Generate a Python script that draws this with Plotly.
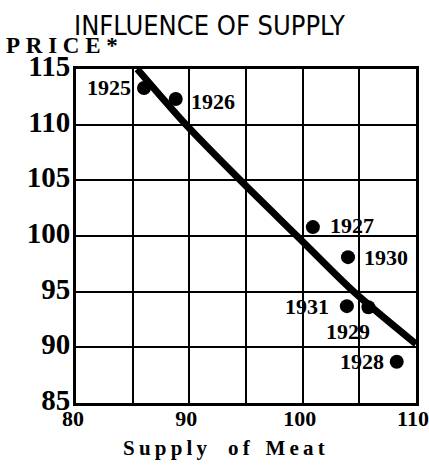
import plotly.graph_objects as go

# Data
years = ["1925", "1926", "1927", "1928", "1929", "1930", "1931"]
supply = [86.0, 88.8, 100.9, 108.3, 105.8, 104.0, 103.9]
price = [113.3, 112.3, 100.8, 88.7, 93.6, 98.1, 93.7]

trend_x = [85.4, 89.7, 94.5, 99.5, 104.5, 110.0]
trend_y = [115.0, 110.0, 105.0, 100.0, 95.0, 90.3]

x_ticks = [80, 85, 90, 95, 100, 105, 110]
x_ticktext = ["80", "", "90", "", "100", "", "110"]
y_ticks = [85, 90, 95, 100, 105, 110, 115]
y_ticktext = ["85", "90", "95", "100", "105", "110", "115"]

# label placement (style): anchor and pixel shifts per year
label_style = {
    "1925": ("right", -11, 0),
    "1926": ("left", 13, -2),
    "1927": ("left", 15, 2),
    "1928": ("right", -11, 0),
    "1929": ("center", -20, -24),
    "1930": ("left", 14, 0),
    "1931": ("right", -16, 0),
}

serif = "Liberation Serif, DejaVu Serif, serif"
THIN = "\u2009"
NB = "\u00a0"

W, H = 429, 466
ML, MR, MT, MB = 76, 13, 69, 63

fig = go.Figure()
fig.add_trace(go.Scatter(
    x=trend_x, y=trend_y, mode="lines",
    line=dict(color="black", width=7, shape="spline", smoothing=0.8),
    hoverinfo="skip", showlegend=False,
))
fig.add_trace(go.Scatter(
    x=supply, y=price, mode="markers",
    marker=dict(color="black", size=14),
    showlegend=False,
))

for yr, sx, py in zip(years, supply, price):
    anchor, dx, dy = label_style[yr]
    fig.add_annotation(
        x=sx, y=py, text=yr, showarrow=False,
        xanchor=anchor, yanchor="middle", xshift=dx, yshift=dy,
        font=dict(family=serif, size=22, color="black", weight="bold"),
    )

plot_w = W - ML - MR
plot_h = H - MT - MB


def px_to_paper(px, py):
    return (px - ML) / plot_w, (H - MB - py) / plot_h


tx, ty = px_to_paper(209, 25)
fig.add_annotation(
    x=tx, y=ty, xref="paper", yref="paper", showarrow=False,
    xanchor="center", yanchor="middle", text="INFLUENCE OF SUPPLY",
    font=dict(family="Liberation Sans Narrow, DejaVu Sans Condensed, Liberation Sans",
              size=27, color="black"),
)
px_, py_ = px_to_paper(4, 45)
fig.add_annotation(
    x=px_, y=py_, xref="paper", yref="paper", showarrow=False,
    xanchor="left", yanchor="middle", text=NB.join("PRICE*"),
    font=dict(family=serif, size=23, color="black", weight="bold"),
)


def spaced(word):
    return THIN.join(word)


xtitle = spaced("Supply") + NB * 4 + spaced("of") + NB * 3 + spaced("Meat")
sx_, sy_ = px_to_paper(224, 448)
fig.add_annotation(
    x=sx_, y=sy_, xref="paper", yref="paper", showarrow=False,
    xanchor="center", yanchor="middle", text=xtitle,
    font=dict(family=serif, size=21, color="black", weight="bold"),
)

fig.update_layout(
    width=W, height=H,
    margin=dict(l=ML, r=MR, t=MT, b=MB, autoexpand=False),
    paper_bgcolor="white", plot_bgcolor="white",
    showlegend=False,
)

fig.update_xaxes(
    range=[80, 110], tickvals=x_ticks, ticktext=x_ticktext,
    showgrid=True, gridcolor="black", gridwidth=2,
    showline=True, linecolor="black", linewidth=3, mirror=True,
    ticks="", zeroline=False, ticklabelstandoff=-6, ticklabelshift=-3,
    ticklabeloverflow="allow", automargin=False,
    tickfont=dict(family=serif, size=22, color="black", weight="bold"),
)
fig.update_yaxes(
    range=[85, 115], tickvals=y_ticks, ticktext=y_ticktext,
    showgrid=True, gridcolor="black", gridwidth=2,
    showline=True, linecolor="black", linewidth=3, mirror=True,
    ticks="", zeroline=False, ticklabelstandoff=-3, ticklabelshift=-3,
    automargin=False,
    tickfont=dict(family=serif, size=29, color="black", weight="bold"),
)

fig.write_html(
    "out.html",
    config={"displayModeBar": False},
    post_script="document.body.style.margin='0';document.body.style.padding='0';",
)
